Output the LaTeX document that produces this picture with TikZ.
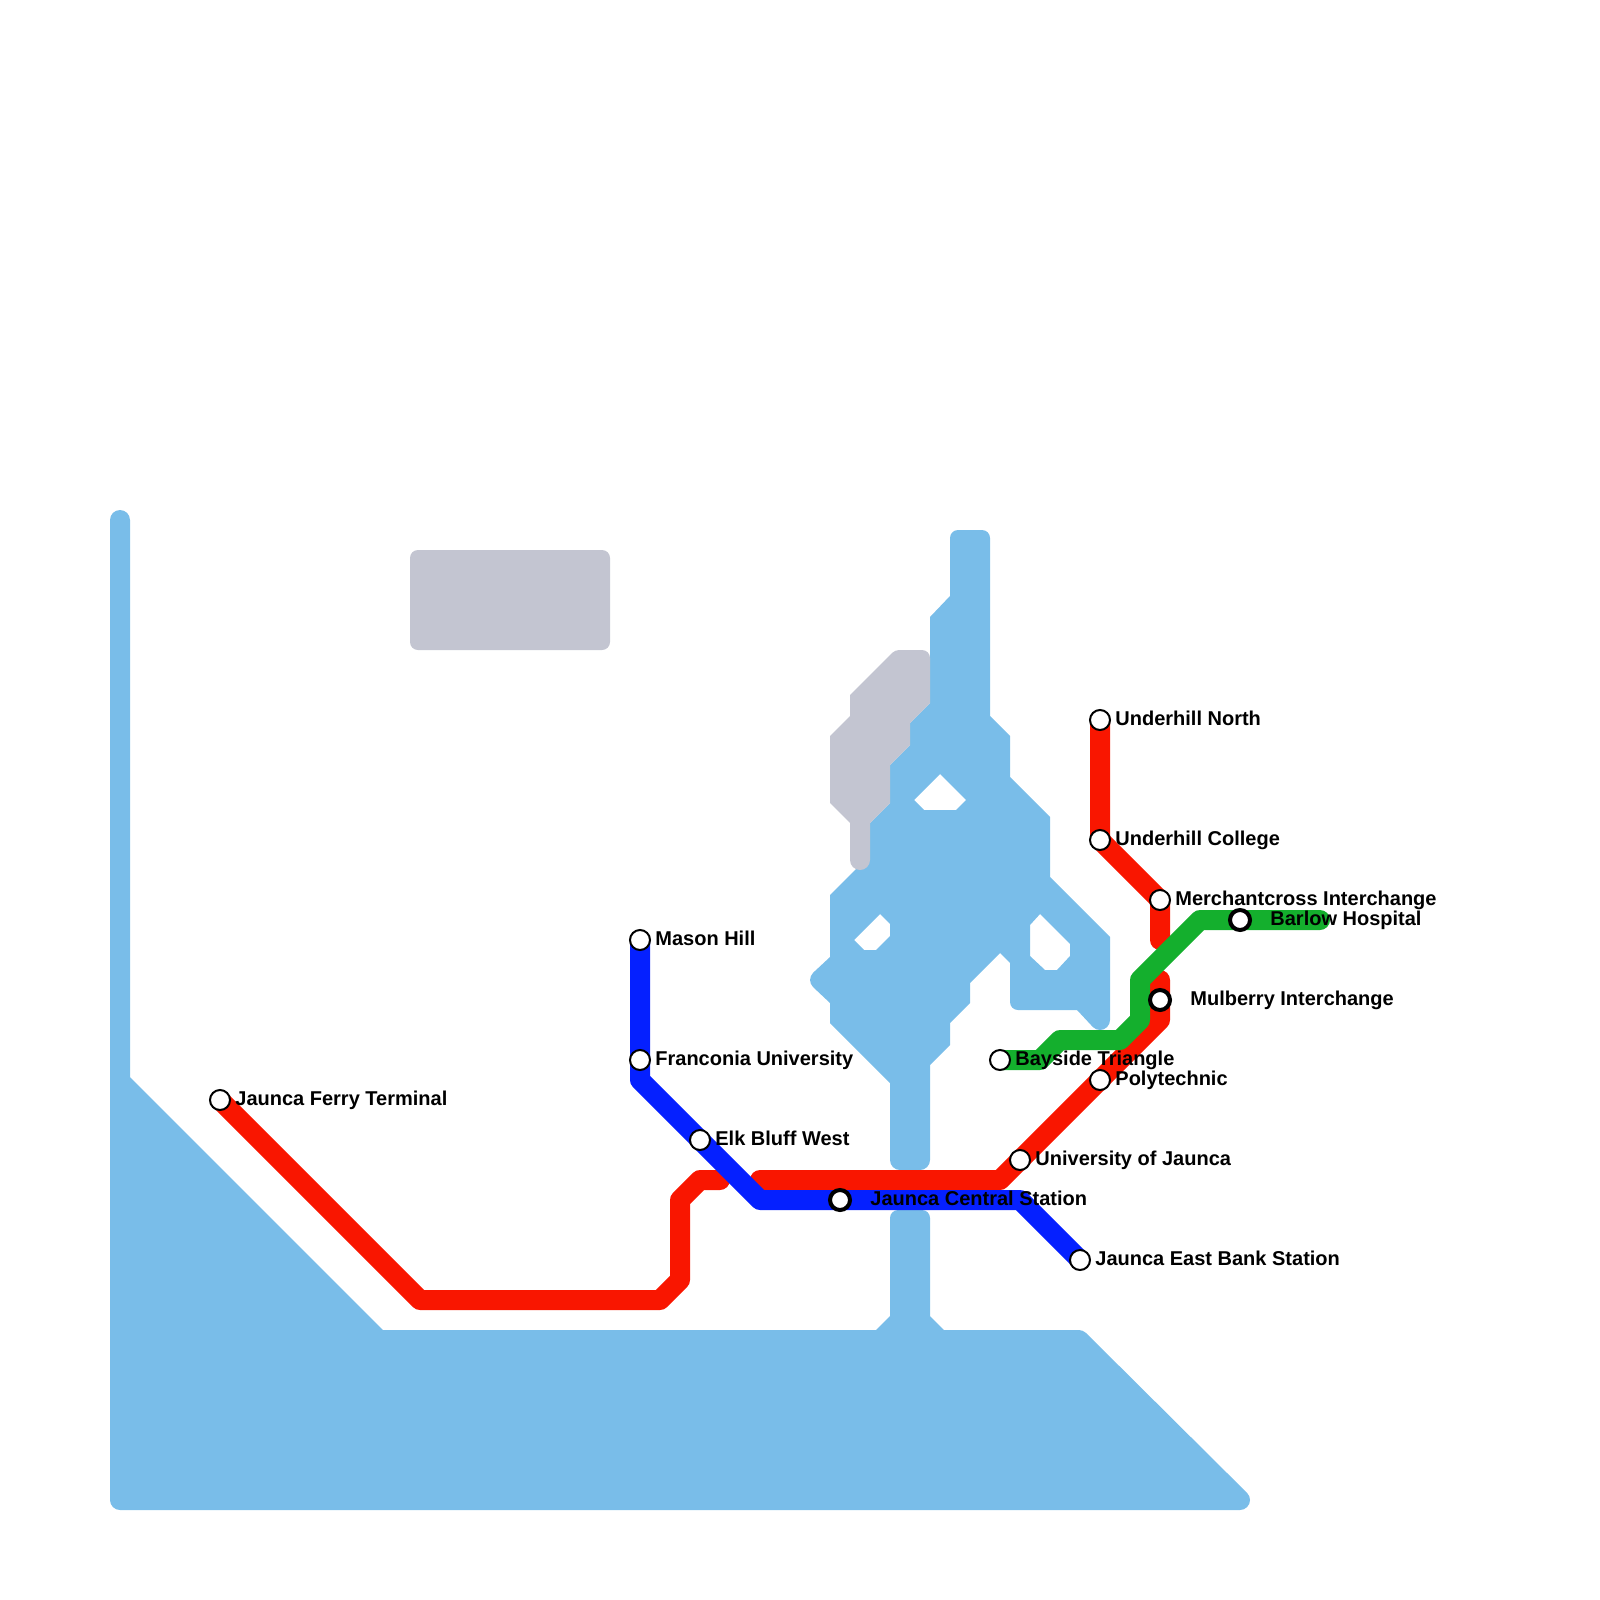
\documentclass[tikz,border=0pt]{standalone}
\usepackage{fontspec}
\setmainfont{Liberation Sans}
\usetikzlibrary{positioning, backgrounds}
\usepackage{xcolor}
\definecolor{WaterBlue}{HTML}{79BDE9}
\definecolor{ParkGray}{HTML}{C3C5D1}
\definecolor{LineRed}{HTML}{F91600}
\definecolor{LineBlue}{HTML}{0520FF}
\definecolor{LineGreen}{HTML}{14AF2D}

\begin{document}
\begin{tikzpicture}[
  x=0.5pt, y=-0.5pt,
  water/.style={fill=WaterBlue, even odd rule},
  park/.style={fill=ParkGray},
  metro/.style={line width=10pt, line cap=round, line join=round},
  station/.style={
    circle, draw=black, fill=white, line width=1pt,
    minimum size=10pt, inner sep=0pt
  },
  interchange/.style={station, line width=2pt},
  stationname/.style={
    font=\fontsize{10}{12}\selectfont\bfseries, inner sep=0pt,
    text height=8pt, text depth=2.5pt
  }
]
  \useasboundingbox (0,0) rectangle (1600,1600);
  % Stations
  \node[station] (ferry) at (220,1100) {};
  \node[station] (mason) at (640,940) {};
  \node[station] (franconia) at (640,1060) {};
  \node[station] (elk) at (700,1140) {};
  \node[interchange] (central) at (840,1200) {};
  \node[station] (eastbank) at (1080,1260) {};
  \node[station] (unijaunca) at (1020,1160) {};
  \node[station] (polytechnic) at (1100,1080) {};
  \node[station] (bayside) at (1000,1060) {};
  \node[interchange] (mulberry) at (1160,1000) {};
  \node[station] (merchantcross) at (1160,900) {};
  \node[station] (college) at (1100,840) {};
  \node[station] (north) at (1100,720) {};
  \node[interchange] (barlow) at (1240,920) {};
  % Names
  \node[stationname, right=2pt of ferry, anchor=west] (ferrytxt) {Jaunca Ferry Terminal};
  \node[stationname, right=2pt of mason, anchor=west] (masontxt) {Mason Hill};
  \node[stationname, right=2pt of franconia, anchor=west] (franconiatxt) {Franconia University};
  \node[stationname, right=2pt of elk, anchor=west] (elktxt) {Elk Bluff West};
  \node[stationname, right=9pt of central, anchor=west] (centraltxt) {Jaunca Central Station};
  \node[stationname, right=2pt of eastbank, anchor=west] (eastbanktxt) {Jaunca East Bank Station};
  \node[stationname, right=2pt of unijaunca, anchor=west] (unijauncatxt) {University of Jaunca};
  \node[stationname, right=2pt of polytechnic, anchor=west] (polytechnictxt) {Polytechnic};
  \node[stationname, right=2pt of bayside, anchor=west] (baysidetxt) {Bayside Triangle};
  \node[stationname, right=9pt of mulberry, anchor=west] (mulberrytxt) {Mulberry Interchange};
  \node[stationname, right=2pt of merchantcross, anchor=west] (merchantcrosstxt) {Merchantcross Interchange};
  \node[stationname, right=2pt of college, anchor=west] (collegetxt) {Underhill College};
  \node[stationname, right=2pt of north, anchor=west] (northtxt) {Underhill North};
  \node[stationname, right=9pt of barlow, anchor=west] (barlowtxt) {Barlow Hospital};
  % Free line ends
  \coordinate (redwest) at (720,1180);
  \coordinate (redeast) at (760,1180);
  \coordinate (redlow) at (1160,980);
  \coordinate (redhigh) at (1160,940);
  \coordinate (greenend) at (1320,920);

  \begin{pgfonlayer}{background}
    % Water
    \fill[water] (383,1330) -- (130,1077) [rounded corners=5pt] -- (130,510) -- (110,510) -- (110,1510) [sharp corners]
      -- (1240,1510) arc[start angle=-90, end angle=45, radius=5pt] [rounded corners=2pt] -- (1083,1330) [sharp corners] -- (944,1330)
      -- (930,1316) [rounded corners=4pt] -- (930,1210) -- (890,1210) [sharp corners] -- (890,1316) -- (876,1330) -- cycle;
    \fill[water] (950,596) [rounded corners=4pt] -- (950,530) -- (990,530) [sharp corners] -- (990,716) -- (1010,736)
      -- (1010,777) -- (1050,817) -- (1050,877) -- (1110,937) -- (1110,1020) arc[start angle=0, end angle=-135, radius=5pt]
      -- (1077,1010) [rounded corners=4pt] -- (1010,1010) [sharp corners] -- (1010,963) -- (1000,953) -- (970,983)
      -- (970,1003) -- (950,1023) -- (950,1045) -- (930,1065) [rounded corners=5pt] -- (930,1170) -- (890,1170) [sharp corners]
      -- (890,1083) -- (830,1023) -- (830,1003) -- (813,987) arc[start angle=225, end angle=135, radius=5pt] -- (830,957) -- (830,895)
      -- (870,855) -- (870,823) -- (890,803) -- (890,765) -- (910,745) -- (910,723) -- (930,703) -- (930,617) -- cycle
      % Islands
      (940,774) -- (966,800) -- (956,810) -- (924,810) -- (914,800) -- cycle
      (880,914) -- (890,924) -- (890,936) -- (876,950) -- (864,950) -- (854,940) -- cycle
      (1040,914) -- (1070,944) -- (1070,956) -- (1057,970) -- (1045,970) -- (1030,956) -- (1030,925) -- cycle;
    % Parks
    \fill[park, rounded corners=4pt] (410,550) rectangle (610,650);
    \fill[park] (930,703) [rounded corners=4pt] -- (930,650) [rounded corners=2pt] -- (895,650) [sharp corners] -- (850,695) -- (850,716)
      -- (830,736) -- (830,803) -- (850,823) [rounded corners=5pt] -- (850,870) -- (870,870) [sharp corners] -- (870,823)
      -- (890,803) -- (890,765) -- (910,745) -- (910,723) -- cycle;
    % Lines
    \draw[metro, LineRed] (ferry.center) -- (420,1300) -- (660,1300) -- (680,1280) -- (680,1200) -- (700,1180) -- (redwest);
    \draw[metro, LineRed] (redeast) -- (1000,1180) -- (unijaunca.center) -- (polytechnic.center) -- (1160,1020) -- (mulberry.center) -- (redlow);
    \draw[metro, LineRed] (redhigh) -- (merchantcross.center) -- (college.center) -- (north.center);
    \draw[metro, LineBlue] (mason.center) -- (franconia.center) -- (640,1080) -- (elk.center) -- (760,1200) -- (central.center) -- (1020,1200) -- (eastbank.center);
    \draw[metro, LineGreen] (bayside.center) -- (1040,1060) -- (1060,1040) -- (1120,1040) -- (1140,1020) -- (1140,980) -- (1200,920) -- (barlow.center) -- (greenend);
  \end{pgfonlayer}
\end{tikzpicture}
\end{document}
